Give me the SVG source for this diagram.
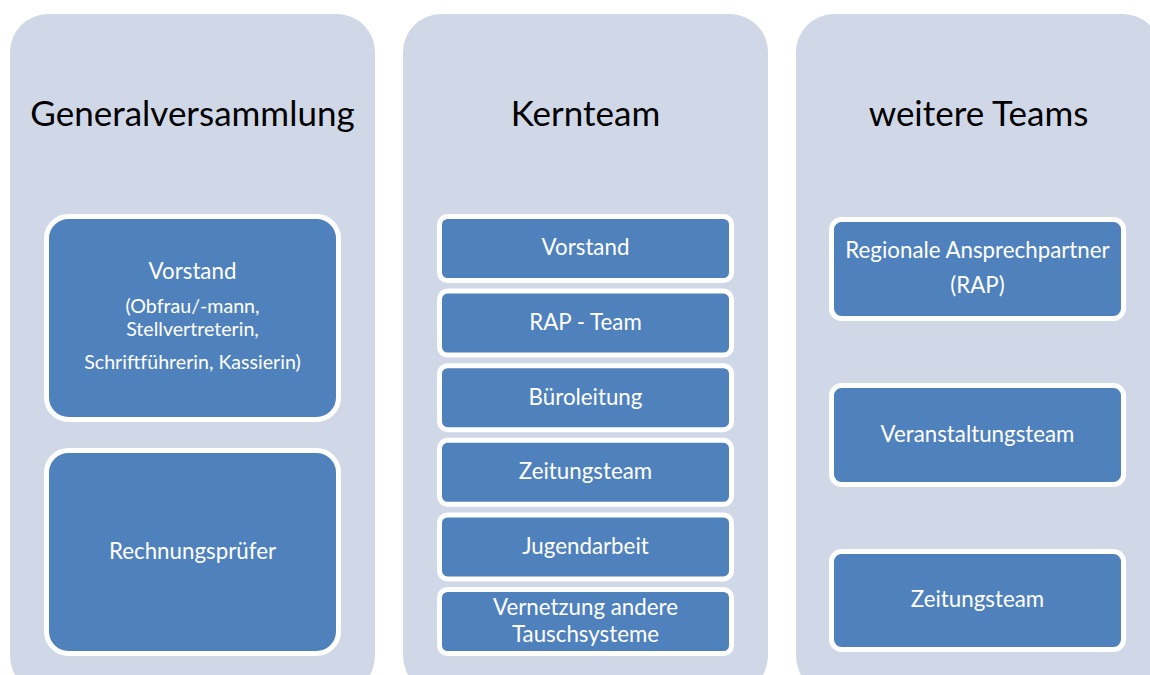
<svg xmlns="http://www.w3.org/2000/svg" width="1150" height="675" viewBox="0 0 1150 675">
<style>
.panel{fill:#D0D8E8;}
.box{fill:#4F81BD;stroke:#FFFFFF;stroke-width:5;}
.h{font-family:Lato,"Open Sans","Liberation Sans",sans-serif;font-size:35px;fill:#000;text-anchor:middle;}
.t{font-family:Lato,"Open Sans","Liberation Sans",sans-serif;font-size:22.3px;fill:#FFFFFF;text-anchor:middle;}
.s{font-family:Lato,"Open Sans","Liberation Sans",sans-serif;font-size:19.6px;fill:#FFFFFF;text-anchor:middle;}
</style>
<rect width="1150" height="675" fill="#FFFFFF"/>
<g id="panel-generalversammlung">
<rect class="panel" x="10" y="14" width="365" height="680" rx="38"/>
<text class="h" x="192.5" y="126">Generalversammlung</text>
</g>
<g id="panel-kernteam">
<rect class="panel" x="403" y="14" width="365" height="680" rx="38"/>
<text class="h" x="585.5" y="126">Kernteam</text>
</g>
<g id="panel-weitere-teams">
<rect class="panel" x="796" y="14" width="365" height="680" rx="38"/>
<text class="h" x="978.5" y="126">weitere Teams</text>
</g>
<g id="gv-vorstand">
<rect class="box" x="46.5" y="216.5" width="292" height="203" rx="22"/>
<text class="t" x="192.5" y="279">Vorstand</text>
<text class="s" x="192.5" y="313">(Obfrau/-mann,</text>
<text class="s" x="192.5" y="336">Stellvertreterin,</text>
<text class="s" x="192.5" y="369">Schriftführerin, Kassierin)</text>
</g>
<g id="gv-rechnungspruefer">
<rect class="box" x="46.5" y="450.5" width="292" height="203" rx="22"/>
<text class="t" x="192.5" y="559">Rechnungsprüfer</text>
</g>
<g id="kt-vorstand">
<rect class="box" x="439.5" y="216.5" width="292" height="64" rx="8"/>
<text class="t" x="585.5" y="255">Vorstand</text>
</g>
<g id="kt-rap-team">
<rect class="box" x="439.5" y="291.1" width="292" height="64" rx="8"/>
<text class="t" x="585.5" y="330">RAP - Team</text>
</g>
<g id="kt-bueroleitung">
<rect class="box" x="439.5" y="365.7" width="292" height="64" rx="8"/>
<text class="t" x="585.5" y="404.5">Büroleitung</text>
</g>
<g id="kt-zeitungsteam">
<rect class="box" x="439.5" y="440.3" width="292" height="64" rx="8"/>
<text class="t" x="585.5" y="479">Zeitungsteam</text>
</g>
<g id="kt-jugendarbeit">
<rect class="box" x="439.5" y="514.9" width="292" height="64" rx="8"/>
<text class="t" x="585.5" y="553.5">Jugendarbeit</text>
</g>
<g id="kt-vernetzung">
<rect class="box" x="439.5" y="589.5" width="292" height="64" rx="8"/>
<text class="t" x="585.5" y="615">Vernetzung andere</text>
<text class="t" x="585.5" y="642">Tauschsysteme</text>
</g>
<g id="wt-rap">
<rect class="box" x="831.5" y="219.5" width="292" height="99" rx="10"/>
<text class="t" x="977.5" y="258">Regionale Ansprechpartner</text>
<text class="t" x="977.5" y="293">(RAP)</text>
</g>
<g id="wt-veranstaltungsteam">
<rect class="box" x="831.5" y="385.5" width="292" height="99" rx="10"/>
<text class="t" x="977.5" y="442">Veranstaltungsteam</text>
</g>
<g id="wt-zeitungsteam">
<rect class="box" x="831.5" y="551.5" width="292" height="98" rx="10"/>
<text class="t" x="977.5" y="607">Zeitungsteam</text>
</g>
<g id="connectors"></g>
</svg>
